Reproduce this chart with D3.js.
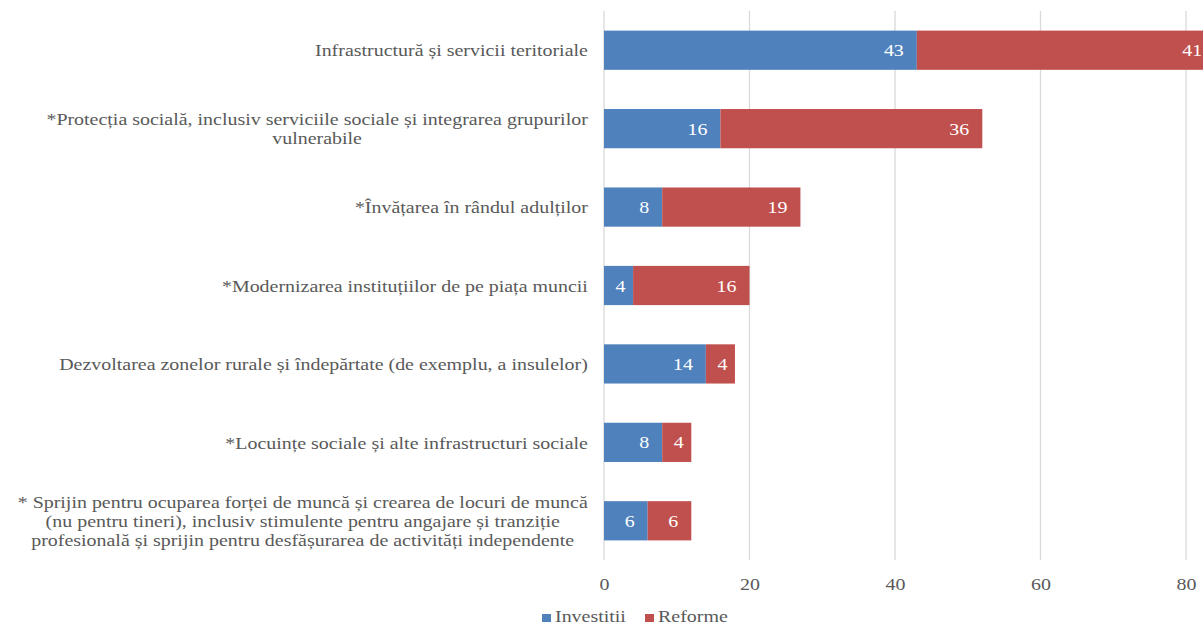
<!DOCTYPE html>
<html>
<head>
<meta charset="utf-8">
<script src="https://cdn.jsdelivr.net/npm/d3@7/dist/d3.min.js"></script>
</head>
<body style="margin:0;padding:0;background:#fff">
<svg id="chart" width="1203" height="626" style="display:block"></svg>
<script>
const FONT = "'Liberation Serif'";
const FS = "17.5px";
const SX = 1.14; // horizontal stretch of the reference text
const categories = [
  ["Infrastructură și servicii teritoriale"],
  ["*Protecția socială, inclusiv serviciile sociale și integrarea grupurilor", "vulnerabile"],
  ["*Învățarea în rândul adulților"],
  ["*Modernizarea instituțiilor de pe piața muncii"],
  ["Dezvoltarea zonelor rurale și îndepărtate (de exemplu, a insulelor)"],
  ["*Locuințe sociale și alte infrastructuri sociale"],
  ["* Sprijin pentru ocuparea forței de muncă și crearea de locuri de muncă",
   "(nu pentru tineri), inclusiv stimulente pentru angajare și tranziție",
   "profesională și sprijin pentru desfășurarea de activități independente"]
];
const investitii = [43, 16, 8, 4, 14, 8, 6];
const reforme   = [41, 36, 19, 16, 4, 4, 6];
const seriesNames = ["Investitii", "Reforme"];
const seriesColors = ["#4F81BD", "#C0504D"];
const xTicks = [0, 20, 40, 60, 80];

const svg = d3.select("#chart").style("font-family", FONT);

const x = d3.scaleLinear().domain([0, 80]).range([604, 1186]);
const y = d3.scaleBand().domain(d3.range(categories.length))
  .range([11, 560]).paddingInner(0.5).paddingOuter(0.25);

function styled(sel, color) {
  return sel.style("font-family", FONT).style("font-size", FS).attr("fill", color);
}

// gridlines
svg.append("g").selectAll("line").data(xTicks).join("line")
  .attr("x1", d => x(d)).attr("x2", d => x(d))
  .attr("y1", 11).attr("y2", 560)
  .attr("stroke", "#D9D9D9").attr("stroke-width", 1.3);

// axis tick labels
const xAxis = d3.axisBottom(x).tickValues(xTicks).tickSize(0).tickPadding(0);
const ax = svg.append("g").attr("transform", "translate(0,590)").call(xAxis);
ax.attr("font-family", null).attr("font-size", null);
ax.select(".domain").remove();
styled(ax.selectAll("text"), "#595959").attr("dy", 0).attr("y", 0)
  .attr("transform", `scale(${SX},1)`);

// stacked data
const rows = categories.map((c, i) => ({ i, Investitii: investitii[i], Reforme: reforme[i] }));
const stack = d3.stack().keys(seriesNames)(rows);

const g = svg.append("g");
stack.forEach((layer, si) => {
  g.append("g").selectAll("rect").data(layer).join("rect")
    .attr("x", d => x(d[0]))
    .attr("y", (d, i) => y(i))
    .attr("width", d => x(d[1]) - x(d[0]))
    .attr("height", y.bandwidth())
    .attr("fill", seriesColors[si]);
  const lg = g.append("g").selectAll("g").data(layer).join("g")
    .attr("transform", (d, i) => {
      const w = x(d[1]) - x(d[0]);
      const px = w < 40 ? (x(d[0]) + x(d[1])) / 2 + 2 : x(d[1]) - 13;
      return `translate(${px},${y(i) + y.bandwidth() / 2}) scale(${SX},1)`;
    });
  styled(lg.append("text"), "#ffffff")
    .attr("text-anchor", d => (x(d[1]) - x(d[0])) < 40 ? "middle" : "end")
    .attr("dy", "0.35em")
    .text(d => d[1] - d[0]);
});

// category labels
const lblG = svg.append("g");
categories.forEach((lines, i) => {
  const cy = y(i) + y.bandwidth() / 2;
  const lh = 19;
  const holder = lblG.append("g");
  const t = styled(holder.append("text"), "#595959").attr("text-anchor", "middle");
  lines.forEach((ln, k) => {
    t.append("tspan").attr("x", 0)
      .attr("y", (k - (lines.length - 1) / 2) * lh)
      .attr("dy", "0.3em").text(ln);
  });
  let maxW = 0;
  t.selectAll("tspan").each(function () { maxW = Math.max(maxW, this.getComputedTextLength()); });
  const cx = 588 - (maxW * SX) / 2;
  holder.attr("transform", `translate(${cx},${cy + 1}) scale(${SX},1)`);
});

// legend
const leg = svg.append("g");
const legX = [542, 645];
seriesNames.forEach((name, k) => {
  leg.append("rect").attr("x", legX[k]).attr("y", 614).attr("width", 9).attr("height", 8)
    .attr("fill", seriesColors[k]);
  styled(leg.append("text"), "#595959")
    .attr("transform", `translate(${legX[k] + 13},622) scale(${SX},1)`)
    .text(name);
});
</script>
</body>
</html>
